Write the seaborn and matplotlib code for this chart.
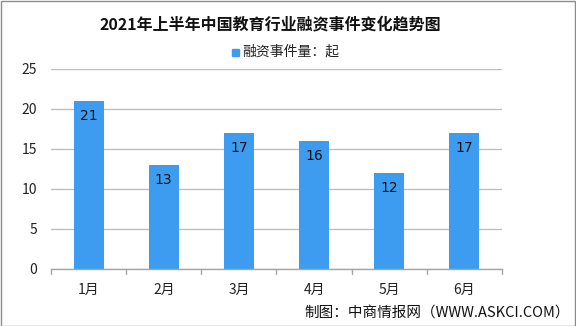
import matplotlib
matplotlib.use("Agg")
import matplotlib.pyplot as plt
import seaborn as sns
import pandas as pd
from matplotlib.patches import Rectangle

months = ["1月", "2月", "3月", "4月", "5月", "6月"]
counts = [21, 13, 17, 16, 12, 17]
title = "2021年上半年中国教育行业融资事件变化趋势图"
legend_label = "融资事件量：起"
source = "制图：中商情报网（WWW.ASKCI.COM）"
yticks = [0, 5, 10, 15, 20, 25]

sns.set_theme(style="white")
plt.rcParams['font.family'] = ['Noto Sans CJK SC', 'DejaVu Sans']

df = pd.DataFrame({"month": months, "count": counts})
W, H = 576, 326
fig = plt.figure(figsize=(W / 100, H / 100), dpi=100)
ax = fig.add_axes([51 / W, 1 - 269 / H, (502 - 51) / W, 200 / H])

color = "#3D9CF0"
sns.barplot(data=df, x="month", y="count", color=color, width=0.4,
            saturation=1, linewidth=0, ax=ax)

ax.set_ylim(0, 25)
ax.set_xlim(-0.5, len(months) - 0.5)
ax.set_yticks(yticks)
ax.set_yticklabels([str(t) for t in yticks], fontsize=10, color="#222222")
ax.yaxis.grid(True, color="#BFBFBF", linewidth=1)
ax.set_axisbelow(True)
ax.set_xlabel("")
ax.set_ylabel("")
for s in ["top", "right", "left"]:
    ax.spines[s].set_visible(False)
ax.spines["bottom"].set_color("#A6A6A6")
ax.spines["bottom"].set_linewidth(1)
ax.tick_params(axis="y", length=0, pad=10)
ax.tick_params(axis="x", length=0, pad=10, labelsize=10, colors="#222222")

# category boundary ticks
for b in [i - 0.5 for i in range(len(months) + 1)]:
    ax.plot([b, b], [0, -0.6], color="#A6A6A6", lw=1, clip_on=False)

for i, v in enumerate(counts):
    ax.text(i, v - 1.9, str(v), ha="center", va="center", fontsize=10,
            color="#111111", family=["DejaVu Sans"])

fig.text(0.47, 1 - 24 / H, title, ha="center", va="center", fontsize=11.5,
         fontweight="bold", color="#111111")

# legend
fig.patches.append(Rectangle((232 / W, 1 - 56 / H), 7 / W, 7 / H,
                             transform=fig.transFigure, color=color))
fig.text(242 / W, 1 - 52 / H, legend_label, ha="left", va="center",
         fontsize=10, color="#222222")

fig.text(570 / W, 1 - 313 / H, source, ha="right", va="center",
         fontsize=10.5, color="#111111")

# frame
fig.patches.append(Rectangle((0.5 / W, 0.5 / H), 1 - 1.5 / W, 1 - 1.5 / H,
                             transform=fig.transFigure, fill=False,
                             edgecolor="#8C8C8C", lw=1))

fig.savefig("out.png", dpi=100)
